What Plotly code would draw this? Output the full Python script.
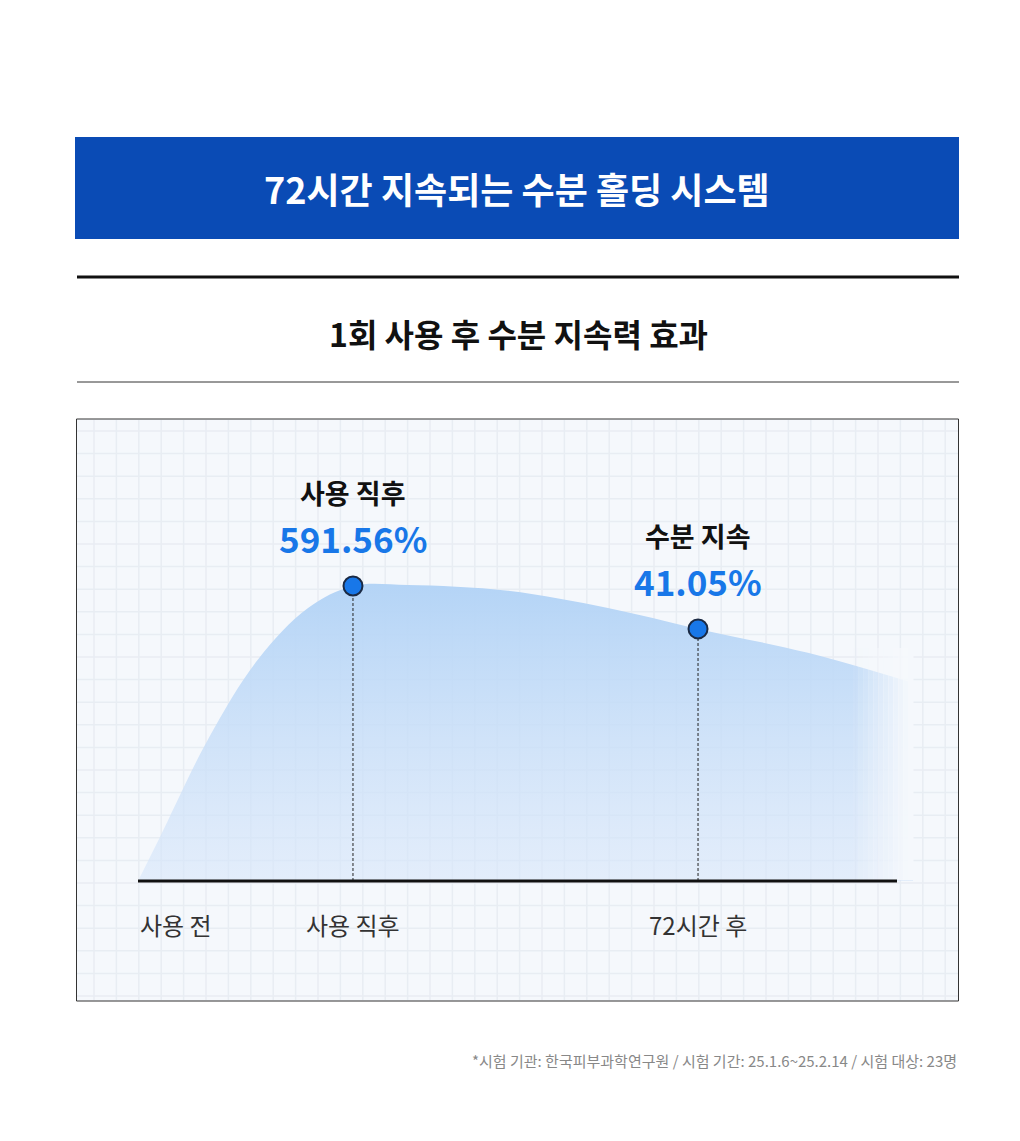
import plotly.graph_objects as go

W, H = 1020, 1141

# data
curve_x = [0, 0.1, 0.326, 0.558, 0.791, 1.0, 1.256, 1.721, 2.186, 2.605, 3.116, 3.605]
curve_y = [0, 9.7, 32, 50, 61.6, 66.6, 66.8, 65.5, 61.6, 56.9, 51.5, 44.7]
point_x = [1.0, 2.605]
point_y = [66.6, 56.9]
point_titles = ["사용 직후", "수분 지속"]
point_values = ["591.56%", "41.05%"]
tick_x = [0, 1.0, 2.605]
tick_labels = ["사용 전", "사용 직후", "72시간 후"]

title = "72시간 지속되는 수분 홀딩 시스템"
subtitle = "1회 사용 후 수분 지속력 효과"
note = "*시험 기관: 한국피부과학연구원 / 시험 기간: 25.1.6~25.2.14 / 시험 대상: 23명"

FONT = "Noto Sans CJK KR"
BLUE = "#0a4bb5"
POINT = "#1877e8"

# chart area in pixels
X0, X1 = 130, 905
Y0, Y1 = 873, 430
XMAX, YMAX = 3.605, 100


def px(v):
    return v / W


def py(v):
    return 1 - v / H


fig = go.Figure()

fig.add_trace(go.Scatter(
    x=curve_x, y=curve_y, mode="lines", line=dict(width=0, shape="spline"),
    fill="tozeroy",
    fillgradient=dict(type="vertical",
                      colorscale=[[0, "rgba(215,230,250,0.6)"], [1, "rgba(180,212,246,1)"]]),
    xaxis="x2", yaxis="y2", hoverinfo="skip", showlegend=False))

for xv, yv in zip(point_x, point_y):
    fig.add_trace(go.Scatter(x=[xv, xv], y=[0, yv], mode="lines",
                             line=dict(color="#222", width=1, dash="3px,2px"),
                             xaxis="x2", yaxis="y2", showlegend=False, hoverinfo="skip"))

fig.add_trace(go.Scatter(x=point_x, y=point_y, mode="markers",
                         marker=dict(size=19, color=POINT, line=dict(color="#1b2a44", width=2)),
                         xaxis="x2", yaxis="y2", showlegend=False, hoverinfo="skip"))

shapes = []
# header bar
shapes.append(dict(type="rect", xref="paper", yref="paper", x0=px(67), x1=px(951),
                   y0=py(231), y1=py(129), fillcolor=BLUE, line_width=0, layer="below"))
shapes.append(dict(type="line", xref="paper", yref="paper", x0=px(69), x1=px(951),
                   y0=py(269), y1=py(269), line=dict(color="#111", width=3)))
shapes.append(dict(type="line", xref="paper", yref="paper", x0=px(69), x1=px(951),
                   y0=py(374), y1=py(374), line=dict(color="#333", width=1)))
# chart box
shapes.append(dict(type="rect", xref="paper", yref="paper", x0=px(68.5), x1=px(950.5),
                   y0=py(993), y1=py(411), fillcolor="#f5f8fc",
                   line=dict(color="#333", width=1), layer="below"))
gx = 86
while gx < 950:
    shapes.append(dict(type="line", xref="paper", yref="paper", x0=px(gx), x1=px(gx),
                       y0=py(992), y1=py(412), line=dict(color="#e8edf3", width=1.5), layer="below"))
    gx += 22.4
gy = 423
while gy < 993:
    shapes.append(dict(type="line", xref="paper", yref="paper", x0=px(69), x1=px(950),
                       y0=py(gy), y1=py(gy), line=dict(color="#e8edf3", width=1.5), layer="below"))
    gy += 22.6
# fade at right edge of the area
for i in range(12):
    xa = 845 + i * 5
    shapes.append(dict(type="rect", xref="paper", yref="paper", x0=px(xa), x1=px(xa + 5.5),
                       y0=py(872), y1=py(640), fillcolor="#f5f8fc",
                       opacity=min(1, (i + 1) / 12), line_width=0, layer="above"))
# baseline
shapes.append(dict(type="line", xref="paper", yref="paper", x0=px(130), x1=px(889),
                   y0=py(873), y1=py(873), line=dict(color="#111", width=3)))
shapes.append(dict(type="line", xref="paper", yref="paper", x0=px(67), x1=px(951),
                   y0=py(1140), y1=py(1140), line=dict(color=BLUE, width=1)))

ann = []
ann.append(dict(text=f"<b>{title}</b>", x=px(509), y=py(180), xref="paper", yref="paper",
                xanchor="center", yanchor="middle",
                showarrow=False, font=dict(size=36, color="white", family=FONT)))
ann.append(dict(text=f"<b>{subtitle}</b>", x=px(510), y=py(325), xref="paper", yref="paper",
                xanchor="center", yanchor="middle",
                showarrow=False, font=dict(size=32, color="#111", family=FONT)))
for xv, yv, t, v in zip(point_x, point_y, point_titles, point_values):
    ann.append(dict(text=f"<b>{t}</b>", x=xv, y=yv, xref="x2", yref="y2", yshift=93,
                    xanchor="center", yanchor="middle",
                    showarrow=False, font=dict(size=27, color="#111", family=FONT)))
    ann.append(dict(text=f"<b>{v}</b>", x=xv, y=yv, xref="x2", yref="y2", yshift=48,
                    xanchor="center", yanchor="middle",
                    showarrow=False, font=dict(size=35, color=POINT, family=FONT)))
for xv, t in zip(tick_x, tick_labels):
    ann.append(dict(text=t, x=xv, y=0, xref="x2", yref="y2", yshift=-43,
                    xanchor="left" if xv == 0 else "center", yanchor="middle",
                    showarrow=False, font=dict(size=24, color="#333", family=FONT)))
ann.append(dict(text=note, x=px(951), y=py(1052), xref="paper", yref="paper",
                xanchor="right", yanchor="middle",
                showarrow=False, font=dict(size=15, color="#888", family=FONT)))

fig.update_layout(
    width=W, height=H, margin=dict(l=0, r=0, t=0, b=0),
    paper_bgcolor="white", plot_bgcolor="rgba(0,0,0,0)",
    xaxis=dict(visible=False, range=[0, 1], fixedrange=True),
    yaxis=dict(visible=False, range=[0, 1], fixedrange=True),
    xaxis2=dict(domain=[px(X0), px(X1)], range=[0, XMAX], anchor="y2", visible=False),
    yaxis2=dict(domain=[py(Y0), py(Y1)], range=[0, YMAX], anchor="x2", visible=False),
    shapes=shapes, annotations=ann, showlegend=False,
)

fig.write_html("out.html")
